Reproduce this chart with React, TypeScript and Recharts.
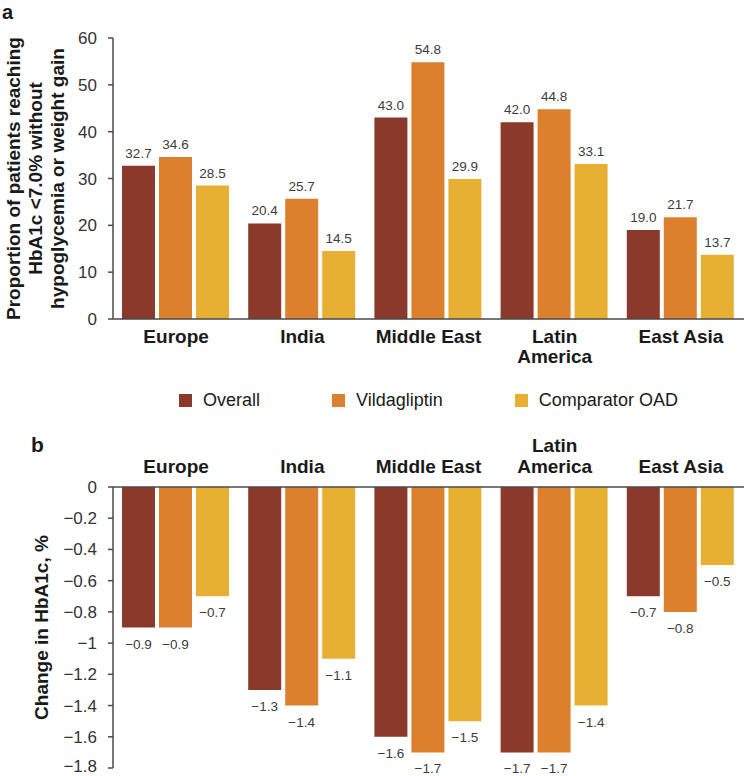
import React from 'react';
import { BarChart, Bar, XAxis, YAxis, Legend, LabelList } from 'recharts';

const regions = ['Europe', 'India', 'Middle East', 'Latin America', 'East Asia'];
const seriesNames = ['Overall', 'Vildagliptin', 'Comparator OAD'];

// a: proportion reaching HbA1c <7.0% without hypoglycemia or weight gain
const responderOverall = [32.7, 20.4, 43.0, 42.0, 19.0];
const responderVilda = [34.6, 25.7, 54.8, 44.8, 21.7];
const responderComparator = [28.5, 14.5, 29.9, 33.1, 13.7];

// b: change in HbA1c, %
const changeOverall = [-0.9, -1.3, -1.6, -1.7, -0.7];
const changeVilda = [-0.9, -1.4, -1.7, -1.7, -0.8];
const changeComparator = [-0.7, -1.1, -1.5, -1.4, -0.5];

const ticksA = [0, 10, 20, 30, 40, 50, 60];
const ticksB = [0, -0.2, -0.4, -0.6, -0.8, -1, -1.2, -1.4, -1.6, -1.8];

const COLORS = ['#8a392b', '#dc802d', '#e8b033'];
const FONT = '"Liberation Sans", Arial, Helvetica, sans-serif';
const AXIS = '#4a4a4a';

const dataA = regions.map((r, i) => ({
  region: r,
  overall: responderOverall[i],
  vilda: responderVilda[i],
  comparator: responderComparator[i],
}));

const dataB = regions.map((r, i) => ({
  region: r,
  overall: changeOverall[i],
  vilda: changeVilda[i],
  comparator: changeComparator[i],
}));

const keys = ['overall', 'vilda', 'comparator'];

const minus = (s: string) => s.replace('-', '\u2212');

// long region names go on two lines
function splitLabel(s: string) {
  if (s.length <= 12) return [s];
  const i = s.lastIndexOf(' ');
  return [s.slice(0, i), s.slice(i + 1)];
}

function BottomTick({ x, y, payload }: any) {
  const lines = splitLabel(payload.value);
  return (
    <text x={x} y={y + 24} textAnchor="middle" fill="#1a1a1a" fontSize={19} fontWeight={700}>
      {lines.map((l, i) => (
        <tspan key={l} x={x} dy={i === 0 ? 0 : 20}>{l}</tspan>
      ))}
    </text>
  );
}

function TopTick({ x, y, payload }: any) {
  const lines = splitLabel(payload.value);
  return (
    <text x={x} y={y - 14 - (lines.length - 1) * 21} textAnchor="middle" fill="#1a1a1a" fontSize={19} fontWeight={700}>
      {lines.map((l, i) => (
        <tspan key={l} x={x} dy={i === 0 ? 0 : 21}>{l}</tspan>
      ))}
    </text>
  );
}

function ValueAbove({ x, y, width, value }: any) {
  return (
    <text x={x + width / 2} y={y - 8} textAnchor="middle" fill="#3c3c3c" fontSize={13.5}>
      {Number(value).toFixed(1)}
    </text>
  );
}

function ValueBelow({ x, y, width, height, value }: any) {
  const bottom = Math.max(y, y + height);
  return (
    <text x={x + width / 2} y={bottom + 21} textAnchor="middle" fill="#3c3c3c" fontSize={13.5}>
      {minus(Number(value).toFixed(1))}
    </text>
  );
}

function TitleA({ viewBox }: any) {
  const cy = viewBox.y + viewBox.height / 2;
  const lines = ['Proportion of patients reaching', 'HbA1c <7.0% without', 'hypoglycemia or weight gain'];
  return (
    <g>
      {lines.map((l, i) => {
        const cx = 13 + i * 22;
        return (
          <text key={l} x={cx} y={cy} transform={`rotate(-90 ${cx} ${cy})`} textAnchor="middle"
            dominantBaseline="central" fill="#1a1a1a" fontSize={19} fontWeight={700}>
            {l}
          </text>
        );
      })}
    </g>
  );
}

function TitleB({ viewBox }: any) {
  const cy = viewBox.y + viewBox.height / 2;
  const cx = 41;
  return (
    <text x={cx} y={cy} transform={`rotate(-90 ${cx} ${cy})`} textAnchor="middle"
      dominantBaseline="central" fill="#1a1a1a" fontSize={19} fontWeight={700}>
      Change in HbA1c, %
    </text>
  );
}

function LegendRow({ payload }: any) {
  const items = [...(payload || [])].sort(
    (a: any, b: any) => seriesNames.indexOf(a.value) - seriesNames.indexOf(b.value)
  );
  return (
    <div style={{ display: 'flex', justifyContent: 'center', alignItems: 'center', height: 28, paddingLeft: 113, boxSizing: 'border-box', width: 744 }}>
      {items.map((p: any) => (
        <div key={p.value} style={{ display: 'flex', alignItems: 'center', margin: '0 36px', fontSize: 18, color: '#1a1a1a' }}>
          <span style={{ width: 13, height: 13, background: p.color, marginRight: 11, display: 'inline-block' }} />
          <span>{p.value}</span>
        </div>
      ))}
    </div>
  );
}

export default function App() {
  return (
    <div style={{ position: 'absolute', left: 0, top: 0, width: 744, height: 776, background: '#fff', fontFamily: FONT }}>
      <svg width={744} height={776} style={{ position: 'absolute', left: 0, top: 0 }}>
        <text x={2} y={19} fontSize={20} fontWeight={700} fill="#1a1a1a">a</text>
        <text x={31} y={452} fontSize={21} fontWeight={700} fill="#1a1a1a">b</text>
      </svg>

      <div style={{ position: 'absolute', left: 0, top: 0 }}>
        <BarChart width={744} height={414} data={dataA} margin={{ top: 38, right: 0, bottom: 0, left: 0 }}
          barCategoryGap={9} barGap={4}>
          <XAxis dataKey="region" height={67} tick={<BottomTick />} tickLine={false} tickSize={0} tickMargin={0}
            axisLine={{ stroke: AXIS, strokeWidth: 1.5 }} interval={0} />
          <YAxis width={113} domain={[0, 60]} ticks={ticksA} tickSize={5} tickMargin={11}
            axisLine={{ stroke: AXIS, strokeWidth: 1.5 }} tickLine={{ stroke: AXIS, strokeWidth: 1.5 }}
            tick={{ fill: '#333', fontSize: 17 }} label={TitleA} />
          <Legend verticalAlign="bottom" content={<LegendRow />} wrapperStyle={{ left: 0, bottom: 0, width: 744, height: 28 }} />
          {keys.map((k, i) => (
            <Bar key={k} dataKey={k} name={seriesNames[i]} fill={COLORS[i]} isAnimationActive={false}>
              <LabelList dataKey={k} content={<ValueAbove />} />
            </Bar>
          ))}
        </BarChart>
      </div>

      <div style={{ position: 'absolute', left: 0, top: 414 }}>
        <BarChart width={744} height={362} data={dataB} margin={{ top: 10, right: 0, bottom: 8, left: 0 }}
          barCategoryGap={9} barGap={4}>
          <XAxis dataKey="region" orientation="top" height={63} tick={<TopTick />} tickLine={false} tickSize={0}
            tickMargin={0} axisLine={{ stroke: AXIS, strokeWidth: 1.5 }} interval={0} />
          <YAxis width={113} domain={[-1.8, 0]} ticks={ticksB} tickSize={5} tickMargin={11}
            axisLine={{ stroke: AXIS, strokeWidth: 1.5 }} tickLine={{ stroke: AXIS, strokeWidth: 1.5 }}
            tick={{ fill: '#333', fontSize: 17 }} tickFormatter={(v: number) => minus(String(v))}
            label={TitleB} />
          {keys.map((k, i) => (
            <Bar key={k} dataKey={k} name={seriesNames[i]} fill={COLORS[i]} isAnimationActive={false}>
              <LabelList dataKey={k} content={<ValueBelow />} />
            </Bar>
          ))}
        </BarChart>
      </div>
    </div>
  );
}
